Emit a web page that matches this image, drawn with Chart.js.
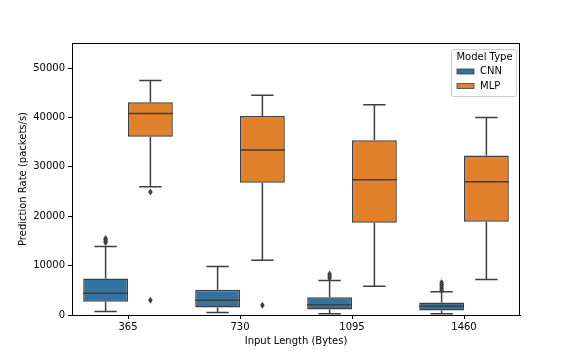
<!DOCTYPE html>
<html>
<head>
<meta charset="utf-8">
<script src="https://cdn.jsdelivr.net/npm/chart.js@4"></script>
<style>
  html, body { margin: 0; padding: 0; background: #fff; }
  #wrap { width: 576px; height: 360px; }
</style>
</head>
<body>
<div id="wrap"><canvas id="boxChart" width="576" height="360"></canvas></div>
<script>
// ========== DATA ==========
const categories = ["365", "730", "1095", "1460"];
const modelTypes = ["CNN", "MLP"];

// CNN box stats (packets/s)
const cnnLow = [730, 500, 260, 260];
const cnnQ1 = [2700, 1500, 1100, 930];
const cnnMedian = [4400, 3000, 2100, 1750];
const cnnQ3 = [7400, 5100, 3600, 2550];
const cnnHigh = [13900, 9800, 7000, 4700];
const cnnOutliers = [[14700, 15000, 15300, 15500], [], [7500, 7900, 8300], [5000, 5400, 5800, 6200, 6600]];

// MLP box stats (packets/s)
const mlpLow = [26000, 11100, 5800, 7200];
const mlpQ1 = [36100, 26800, 18700, 18900];
const mlpMedian = [40800, 33400, 27400, 27000];
const mlpQ3 = [43100, 40300, 35400, 32300];
const mlpHigh = [47500, 44500, 42600, 40000];
const mlpOutliers = [[24900, 3000], [2000], [], []];

const yTicks = [0, 10000, 20000, 30000, 40000, 50000];

// ========== STYLE ==========
const colors = ["#3274a1", "#e1812c"];
const lineColor = "#3f3f3f";
const fontFamily = "'DejaVu Sans', sans-serif";

const stats = [
  { low: cnnLow, med: cnnMedian, high: cnnHigh, out: cnnOutliers },
  { low: mlpLow, med: mlpMedian, high: mlpHigh, out: mlpOutliers }
];

// whiskers, medians, outliers, frame and legend
const boxExtras = {
  id: "boxExtras",
  afterDatasetsDraw(chart) {
    const ctx = chart.ctx;
    const y = chart.scales.y;
    ctx.save();
    ctx.strokeStyle = lineColor;
    ctx.lineWidth = 1.5;
    stats.forEach((s, di) => {
      const meta = chart.getDatasetMeta(di);
      meta.data.forEach((bar, i) => {
        const cx = bar.x;
        const half = bar.width / 2;
        const capHalf = bar.width / 4;
        const box = chart.data.datasets[di].data[i];
        const yLow = y.getPixelForValue(s.low[i]);
        const yHigh = y.getPixelForValue(s.high[i]);
        const yQ1 = y.getPixelForValue(box[0]);
        const yQ3 = y.getPixelForValue(box[1]);
        const yMed = y.getPixelForValue(s.med[i]);
        ctx.beginPath();
        ctx.moveTo(cx, yQ1); ctx.lineTo(cx, yLow);
        ctx.moveTo(cx, yQ3); ctx.lineTo(cx, yHigh);
        ctx.moveTo(cx - capHalf, yLow); ctx.lineTo(cx + capHalf, yLow);
        ctx.moveTo(cx - capHalf, yHigh); ctx.lineTo(cx + capHalf, yHigh);
        ctx.moveTo(cx - half, yMed); ctx.lineTo(cx + half, yMed);
        ctx.stroke();
        // outliers as thin diamonds
        ctx.fillStyle = lineColor;
        s.out[i].forEach((v) => {
          const py = y.getPixelForValue(v);
          ctx.beginPath();
          ctx.moveTo(cx, py - 3.5);
          ctx.lineTo(cx + 2.3, py);
          ctx.lineTo(cx, py + 3.5);
          ctx.lineTo(cx - 2.3, py);
          ctx.closePath();
          ctx.fill();
        });
      });
    });

    // axes frame
    const a = chart.chartArea;
    ctx.strokeStyle = "#000";
    ctx.lineWidth = 1;
    ctx.strokeRect(a.left + 0.5, a.top + 0.5, a.right - a.left - 1, a.bottom - a.top);

    // legend in the upper right
    const lx = a.right - 69, ly = a.top + 6, lw = 65, lh = 47;
    ctx.fillStyle = "rgba(255,255,255,0.8)";
    ctx.strokeStyle = "#cccccc";
    ctx.beginPath();
    ctx.roundRect(lx + 0.5, ly + 0.5, lw, lh, 2);
    ctx.fill();
    ctx.stroke();
    ctx.fillStyle = "#000";
    ctx.font = "10px " + fontFamily;
    ctx.textBaseline = "middle";
    ctx.textAlign = "center";
    ctx.fillText("Model Type", lx + lw / 2 + 1, ly + 8);
    ctx.textAlign = "left";
    modelTypes.forEach((name, k) => {
      const ry = ly + 20 + k * 14.5;
      ctx.fillStyle = colors[k];
      ctx.fillRect(lx + 6, ry, 17, 5);
      ctx.strokeStyle = lineColor;
      ctx.lineWidth = 0.8;
      ctx.strokeRect(lx + 6, ry, 17, 5);
      ctx.fillStyle = "#000";
      ctx.fillText(name, lx + 29, ry + 2.5);
    });
    ctx.restore();
  }
};

// ========== CHART ==========
new Chart(document.getElementById("boxChart"), {
  type: "bar",
  data: {
    labels: categories,
    datasets: [
      {
        label: modelTypes[0],
        data: cnnQ1.map((q, i) => [q, cnnQ3[i]]),
        backgroundColor: colors[0],
        borderColor: lineColor,
        borderWidth: 1.5,
        borderSkipped: false
      },
      {
        label: modelTypes[1],
        data: mlpQ1.map((q, i) => [q, mlpQ3[i]]),
        backgroundColor: colors[1],
        borderColor: lineColor,
        borderWidth: 1.5,
        borderSkipped: false
      }
    ]
  },
  options: {
    responsive: false,
    animation: false,
    categoryPercentage: 0.8,
    barPercentage: 1.0,
    layout: { padding: { left: 0, right: 56, top: 43, bottom: 0 } },
    plugins: {
      legend: { display: false },
      tooltip: { enabled: false }
    },
    scales: {
      x: {
        offset: true,
        grid: { offset: false, drawOnChartArea: false, drawTicks: true, tickLength: 4, color: "#000" },
        border: { display: true, color: "#000" },
        ticks: { color: "#000", font: { family: fontFamily, size: 10 }, padding: 2, maxRotation: 0 },
        title: { display: true, text: "Input Length (Bytes)", color: "#000", font: { family: fontFamily, size: 10 }, padding: { top: 2, bottom: 13 } },
        afterFit(scale) { scale.height = 45; }
      },
      y: {
        min: 0,
        max: 55100,
        grid: { drawOnChartArea: false, drawTicks: true, tickLength: 4, color: "#000" },
        border: { display: true, color: "#000" },
        afterBuildTicks(scale) { scale.ticks = yTicks.map((v) => ({ value: v })); },
        ticks: {
          color: "#000",
          font: { family: fontFamily, size: 10 },
          padding: 3,
          callback: (v) => String(v)
        },
        title: { display: true, text: "Prediction Rate (packets/s)", color: "#000", font: { family: fontFamily, size: 10 }, padding: { top: 17, bottom: 4 } },
        afterFit(scale) { scale.width = 72; }
      }
    }
  },
  plugins: [boxExtras]
});
</script>
</body>
</html>
